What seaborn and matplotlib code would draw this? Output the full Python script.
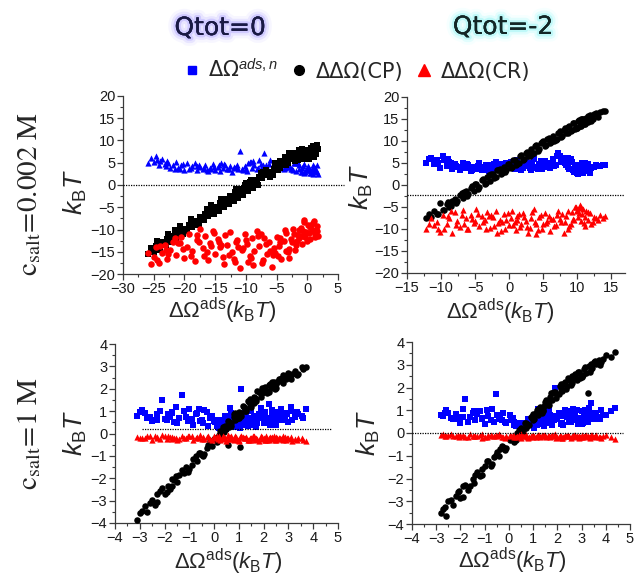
import matplotlib
matplotlib.use("Agg")
import matplotlib.pyplot as plt
import seaborn as sns
from matplotlib.lines import Line2D
from matplotlib.ticker import MultipleLocator, AutoMinorLocator
from matplotlib import patheffects as pe

# ---------------- data ----------------
# Top-left: Qtot=0, c_salt=0.002 M
TL_X = [-25.9, -25.5, -25.0, -24.6, -24.1, -23.7, -23.2, -22.8, -22.3, -21.9,
        -21.4, -21.0, -20.5, -20.1, -19.6, -19.2, -18.8, -18.3, -17.9, -17.5,
        -17.0, -16.6, -16.2, -15.8, -15.4, -15.0, -14.6, -14.2, -13.8, -13.4,
        -13.0, -12.6, -12.2, -11.8, -11.4, -11.0, -10.6, -10.2, -9.8, -9.4,
        -9.0, -8.6, -8.2, -7.8, -7.4, -7.0, -6.6, -6.2, -5.8, -5.4,
        -5.0, -4.6, -4.2, -3.8, -3.4, -3.0, -2.6, -2.2, -1.8, -1.4,
        -1.1, -0.8, -0.5, -0.2, 0.1, 0.4, 0.7, 1.0, 1.3, 1.6,
        1.8, -0.6, -1.6, -2.4, -3.2, -4.4, 0.3, -0.9, 1.1, -7.2,
        -24.4, -23.0, -21.6, -20.3, -19.0, -17.7, -16.4, -15.2, -14.0, -12.8,
        -11.6, -10.4, -9.2, -8.0, -6.8, -5.6, -4.5, -3.5, -2.5, -1.5,
        -0.7, 0.0, 0.6, 1.2, 1.5, -12.0, -10.0, -8.8, -7.6, -6.0,
        -4.8, -3.6, -2.0, -1.3, -0.4, 0.5, 0.9, -13.6, -15.6, -18.0,
        -20.8, -22.6, -24.0, -16.8, -14.4, -11.2, -9.6, -5.2, -2.9, 1.4]
TL_BLUE = [4.9, 6.1, 5.2, 6.6, 4.4, 5.8, 4.8, 5.3, 3.9, 4.6,
           5.1, 3.8, 4.5, 3.4, 4.9, 3.7, 4.2, 5.0, 3.3, 4.0,
           3.6, 4.4, 3.1, 3.9, 4.7, 3.4, 4.1, 3.2, 3.8, 4.5,
           3.5, 4.2, 3.0, 3.9, 4.6, 7.6, 3.6, 4.3, 3.2, 5.1,
           3.8, 4.4, 3.5, 5.6, 4.1, 7.3, 3.7, 4.8, 3.4, 4.3,
           5.0, 3.9, 4.6, 3.5, 5.3, 4.1, 3.6, 4.9, 3.2, 4.4,
           3.0, 3.8, 2.6, 3.4, 4.2, 2.8, 3.6, 2.5, 3.1, 4.5,
           2.4, 4.7, 5.2, 3.3, 4.0, 4.8, 3.9, 2.9, 4.1, 4.6,
           5.7, 4.3, 3.6, 4.8, 3.9, 4.5, 3.3, 4.0, 4.9, 3.7,
           4.1, 3.4, 5.2, 3.9, 4.6, 3.6, 5.5, 4.2, 3.7, 5.0,
           4.2, 3.4, 2.7, 3.9, 2.9, 4.0, 3.5, 5.4, 4.7, 5.6,
           4.4, 3.8, 4.9, 3.6, 2.9, 3.3, 4.4, 4.8, 3.7, 4.2,
           3.6, 4.9, 5.4, 3.8, 4.4, 3.7, 4.9, 3.7, 4.5, 3.4]
TL_BLACK = [-15.5, -14.2, -15.0, -13.6, -14.3, -12.9, -13.5, -12.1, -12.8, -11.4,
            -11.9, -10.6, -11.2, -9.8, -10.3, -8.9, -9.5, -8.0, -8.6, -7.3,
            -7.9, -6.6, -7.0, -5.8, -6.2, -4.9, -5.4, -4.1, -4.5, -3.2,
            -3.7, -2.5, -2.9, -1.6, -2.0, -0.8, -1.3, -0.1, -0.6, 0.6,
            0.1, 1.2, 0.8, 1.9, 1.5, 2.5, 2.2, 3.0, 2.8, 3.6,
            3.5, 4.2, 4.6, 5.4, 5.9, 6.6, 6.2, 7.1, 6.5, 7.3,
            6.8, 7.6, 6.4, 7.2, 7.9, 6.6, 7.5, 8.2, 7.4, 8.6,
            8.1, 5.9, 6.0, 5.8, 5.0, 3.9, 5.8, 8.0, 6.3, 2.9,
            -12.5, -13.5, -10.0, -11.0, -7.6, -8.7, -5.3, -6.5, -3.1, -4.3,
            -0.9, -2.2, 1.1, -0.1, 3.3, 2.3, 5.4, 4.5, 7.0, 5.7,
            7.9, 6.2, 8.4, 6.9, 9.0, -3.6, 0.4, -0.7, 2.6, 1.9,
            3.3, 6.4, 5.3, 7.8, 6.0, 6.6, 8.7, -5.0, -4.5, -9.1,
            -9.2, -11.0, -14.6, -7.9, -5.8, -2.9, -1.4, 4.9, 7.1, 7.0]
TL_RED = [-15.3, -17.8, -16.1, -14.0, -17.5, -15.2, -13.4, -16.6, -14.5, -12.8,
          -15.8, -13.1, -11.6, -16.4, -13.9, -10.9, -14.8, -17.0, -12.3, -9.9,
          -14.2, -11.5, -16.8, -13.0, -10.4, -15.5, -12.1, -14.0, -16.2, -11.3,
          -13.5, -10.6, -15.1, -17.3, -12.4, -18.6, -14.6, -11.0, -13.2, -16.0,
          -12.0, -14.9, -10.3, -13.6, -17.6, -11.8, -15.4, -12.9, -18.4, -14.2,
          -11.6, -13.8, -16.6, -12.5, -10.8, -14.4, -12.2, -11.1, -13.5, -10.2,
          -9.6, -11.4, -8.3, -10.6, -9.1, -12.2, -10.0, -8.6, -11.7, -9.2,
          -11.5, -7.8, -12.6, -9.8, -15.0, -12.8, -10.8, -13.2, -8.1, -16.9,
          -16.9, -14.7, -12.0, -14.3, -16.0, -12.7, -15.1, -10.8, -13.4, -15.7,
          -12.8, -14.1, -16.5, -11.5, -13.2, -15.8, -11.9, -14.8, -12.9, -11.3,
          -10.3, -12.5, -9.0, -10.9, -10.4, -16.6, -12.3, -17.9, -11.0, -14.9,
          -15.9, -10.1, -14.7, -12.0, -11.6, -9.5, -10.3, -17.8, -13.6, -11.3,
          -13.0, -15.6, -13.6, -15.9, -12.7, -14.0, -17.2, -15.2, -16.5, -10.1]

# Top-right: Qtot=-2, c_salt=0.002 M
TR_X = [-12.2, -11.5, -11.0, -10.6, -10.1, -9.7, -9.2, -8.8, -8.4, -8.0,
        -7.6, -7.2, -6.8, -6.4, -6.0, -5.6, -5.2, -4.8, -4.4, -4.0,
        -3.6, -3.2, -2.8, -2.4, -2.0, -1.6, -1.2, -0.8, -0.4, 0.0,
        0.4, 0.8, 1.2, 1.6, 2.0, 2.4, 2.8, 3.2, 3.6, 4.0,
        4.4, 4.8, 5.2, 5.6, 6.0, 6.4, 6.8, 7.2, 7.6, 8.0,
        8.4, 8.8, 9.2, 9.5, 9.8, 10.1, 10.4, 10.7, 11.0, 11.3,
        11.6, 11.9, 12.3, 12.8, 13.4, 14.1, 10.0, 9.0, 10.5, 11.2,
        -9.5, -6.6, -3.0, 1.0, 5.0, 7.0, 3.0, -1.0, 8.6, 6.2,
        -11.8, -10.4, -9.0, -7.8, -7.0, -6.2, -5.4, -4.6, -3.8, -3.4,
        -2.6, -2.2, -1.4, -0.6, -0.2, 0.2, 0.6, 1.4, 1.8, 2.2,
        2.6, 3.4, 3.8, 4.2, 4.6, 5.4, 5.8, 6.6, 7.4, 7.8,
        8.2, 8.6, 9.4, 9.7, 10.2, 10.6, 10.9, 11.1, 11.5, 12.0,
        12.5, 13.0, 13.7, -8.6, -5.0, -1.8, 1.2, 4.0, 9.9, 10.3]
TR_BLUE = [5.1, 6.1, 4.7, 5.6, 3.9, 6.6, 4.4, 5.3, 3.6, 4.8,
           4.1, 3.5, 5.0, 3.9, 4.5, 3.2, 4.2, 3.6, 4.9, 3.4,
           4.0, 3.3, 4.6, 3.7, 5.2, 3.9, 4.4, 3.4, 5.1, 4.2,
           4.9, 3.6, 5.6, 4.2, 3.8, 5.3, 4.5, 3.4, 5.9, 4.1,
           4.8, 3.7, 5.4, 4.4, 3.9, 5.8, 4.6, 7.2, 5.2, 6.1,
           4.5, 3.6, 5.3, 2.9, 4.2, 2.5, 3.8, 4.9, 3.1, 4.4,
           3.5, 2.8, 4.1, 4.6, 4.3, 4.6, 3.3, 5.9, 2.7, 5.1,
           5.6, 4.6, 3.1, 5.0, 4.2, 6.6, 3.9, 4.7, 6.2, 5.0,
           5.8, 4.9, 5.9, 4.4, 3.8, 4.7, 3.5, 4.3, 3.6, 4.6,
           3.9, 4.8, 3.5, 4.5, 3.8, 5.3, 4.0, 4.6, 3.5, 5.0,
           4.3, 5.1, 4.0, 3.6, 5.5, 4.0, 5.1, 4.3, 6.6, 5.6,
           5.0, 4.0, 3.4, 4.6, 3.0, 4.2, 2.7, 3.9, 4.7, 3.8,
           4.0, 4.3, 4.5, 4.9, 4.0, 3.7, 4.3, 3.8, 2.8, 4.6]
TR_BLACK = [-7.6, -7.3, -6.0, -6.5, -4.2, -5.6, -4.3, -4.9, -3.6, -3.1,
            -3.7, -2.2, -2.9, -1.4, -2.1, -0.6, -1.3, 0.3, -0.5, 1.1,
            0.3, 1.9, 1.0, 2.6, 1.8, 3.4, 2.6, 4.1, 3.3, 4.8,
            4.1, 5.7, 4.9, 6.5, 5.6, 7.3, 6.5, 8.1, 7.2, 8.9,
            8.1, 9.7, 8.9, 10.5, 9.6, 11.2, 10.3, 11.9, 11.0, 12.6,
            11.8, 13.3, 12.5, 14.0, 12.9, 14.5, 13.4, 15.0, 13.9, 15.3,
            14.4, 15.8, 15.0, 16.4, 16.6, 16.8, 12.9, 12.2, 15.1, 14.0,
            -5.7, -1.6, 2.2, 4.6, 10.0, 10.4, 6.7, 2.7, 13.1, 9.8,
            -6.6, -6.7, -3.8, -4.0, -1.8, -2.4, -0.2, -0.8, 1.4, 0.4,
            2.5, 1.5, 3.7, 3.0, 4.8, 3.8, 5.6, 5.0, 6.8, 5.8,
            7.6, 7.0, 8.8, 7.8, 9.6, 9.0, 10.7, 10.0, 12.2, 11.1,
            12.9, 11.8, 14.0, 12.8, 14.6, 13.5, 15.1, 13.9, 15.6, 14.5,
            16.2, 15.4, 16.9, -4.8, 0.2, 3.3, 4.8, 9.0, 13.0, 14.7]
TR_RED = [-10.0, -7.4, -9.2, -8.3, -10.6, -6.8, -8.9, -7.6, -10.9, -6.2,
          -8.1, -9.6, -5.6, -7.5, -10.1, -6.9, -8.6, -5.4, -9.3, -7.1,
          -8.0, -6.1, -9.8, -7.3, -5.8, -8.7, -10.4, -6.6, -7.9, -9.1,
          -5.9, -8.4, -7.0, -9.5, -6.3, -8.1, -10.8, -7.4, -5.5, -8.8,
          -7.2, -9.9, -6.4, -8.2, -10.5, -7.7, -9.0, -6.0, -8.5, -11.0,
          -7.0, -9.3, -6.2, -8.0, -5.1, -7.3, -4.6, -6.5, -8.6, -5.8,
          -7.9, -6.4, -8.3, -7.5, -6.9, -7.0, -5.6, -8.8, -4.9, -9.4,
          -9.9, -8.8, -7.0, -10.2, -8.9, -6.8, -9.7, -8.3, -10.1, -7.8,
          -8.8, -9.9, -7.1, -9.0, -6.8, -9.9, -7.7, -6.5, -8.5, -10.0,
          -6.9, -9.4, -8.0, -10.0, -6.3, -7.6, -9.1, -6.7, -8.9, -7.2,
          -9.6, -6.2, -8.4, -10.3, -6.9, -8.6, -7.1, -9.3, -7.7, -6.6,
          -8.4, -6.0, -7.7, -4.9, -6.4, -8.2, -5.5, -7.2, -6.1, -8.8,
          -7.3, -8.0, -7.5, -5.9, -8.2, -10.8, -7.9, -11.2, -6.0, -5.3]

# Bottom-left: Qtot=0, c_salt=1 M
BL_X = [-3.1, -2.9, -2.7, -2.5, -2.3, -2.1, -1.9, -1.7, -1.5, -1.3,
        -1.15, -1.0, -0.85, -0.7, -0.55, -0.4, -0.25, -0.1, 0.05, 0.2,
        0.3, 0.4, 0.5, 0.6, 0.7, 0.8, 0.9, 1.0, 1.1, 1.2,
        1.3, 1.4, 1.5, 1.6, 1.7, 1.8, 1.9, 2.0, 2.1, 2.2,
        2.3, 2.4, 2.5, 2.6, 2.7, 2.8, 2.9, 3.0, 3.1, 3.25,
        3.4, 3.6, 3.7, -2.0, -1.2, -0.5, 0.55, 1.05, 1.65, 2.35,
        -2.6, -1.6, -0.3, 0.15, 0.85, 1.45, 2.05, 2.75, -0.9, 1.25,
        0.45, 0.95, 1.55, 1.95, 2.55, -1.85, -1.4, 0.65, 3.15, 0.35,
        -2.8, -2.4, -2.2, -1.8, -1.55, -1.05, -0.75, -0.45, -0.15, 0.1,
        0.25, 0.4, 0.55, 0.7, 0.85, 1.0, 1.15, 1.3, 1.45, 1.6,
        1.75, 1.9, 2.05, 2.2, 2.35, 2.5, 2.65, 2.8, 2.95, 3.1,
        0.35, 0.6, 0.8, 1.1, 1.35, 1.7, 1.95, 2.25, 2.45, 2.6,
        2.85, 3.35, 3.55, -3.0, -2.3, -1.7, -0.6, 0.0, 1.5, 2.15]
BL_BLUE = [0.8, 1.05, 0.7, 0.55, 0.85, 1.5, 0.6, 0.95, 0.45, 1.7,
           0.75, 1.1, 0.4, 0.9, 0.55, 1.05, 0.35, 0.8, 0.5, 0.25,
           0.3, 0.6, 0.2, 0.45, 0.9, 0.35, 0.7, 0.5, 2.0, 0.4,
           0.8, 0.5, 1.0, 0.6, 0.3, 0.85, 1.15, 0.45, 0.7, 1.3,
           0.55, 0.95, 0.4, 0.8, 1.1, 0.6, 0.9, 0.5, 1.2, 0.75,
           0.85, 0.7, 1.1, 0.65, 1.0, 0.6, 0.55, 0.25, 0.65, 1.05,
           0.75, 0.5, 0.95, 0.6, 0.3, 0.7, 0.55, 0.85, 0.65, 1.05,
           0.8, 0.6, 0.4, 0.95, 0.65, 0.85, 0.7, 1.15, 0.6, 0.45,
           0.9, 0.6, 1.0, 0.75, 1.2, 0.55, 0.85, 0.45, 0.7, 0.35,
           0.45, 0.3, 0.75, 0.55, 0.4, 0.85, 0.6, 0.95, 0.5, 0.8,
           0.45, 0.7, 0.95, 0.6, 0.8, 0.5, 0.95, 0.65, 0.85, 1.0,
           0.55, 0.8, 0.4, 0.65, 0.35, 0.55, 0.75, 0.4, 0.9, 0.6,
           0.75, 0.95, 0.8, 0.95, 0.6, 0.9, 1.1, 0.55, 1.1, 0.65]
BL_BLACK = [-3.85, -3.45, -3.5, -2.95, -3.05, -2.45, -2.6, -2.05, -2.15, -1.65,
            -1.5, -1.6, -1.15, -1.25, -0.85, -0.9, -0.5, -0.55, -0.2, -0.05,
            0.05, 0.3, 0.22, 0.5, 0.45, 0.75, 0.65, 0.95, 0.9, 1.2,
            1.1, 1.4, 1.3, 1.65, 1.55, 1.85, 1.75, 2.05, 1.9, 2.15,
            2.05, 2.3, 2.2, 2.45, 2.35, 2.6, 2.45, 2.7, 2.6, 2.8,
            2.65, 2.9, 2.98, -2.7, -1.75, -0.95, -0.5, -0.6, 1.6, 2.2,
            -3.1, -2.1, -0.65, -0.15, 0.6, 1.25, 1.95, 2.5, -1.4, 1.0,
            0.35, 0.7, 1.5, 1.8, 2.3, -2.35, -1.85, 0.4, 2.65, 0.15,
            -3.25, -3.2, -2.55, -2.5, -1.9, -1.7, -1.0, -1.0, -0.35, -0.4,
            0.1, 0.05, 0.55, 0.35, 0.9, 0.7, 1.25, 1.0, 1.55, 1.35,
            1.9, 1.65, 2.1, 1.85, 2.3, 2.05, 2.45, 2.25, 2.6, 2.45,
            0.3, 0.3, 0.85, 0.8, 1.45, 1.45, 2.05, 2.2, 2.0, 2.4,
            2.55, 2.6, 2.95, -3.55, -2.7, -2.35, -0.85, -0.25, 1.2, 1.8]
BL_RED = [-0.15, -0.22, -0.1, -0.28, -0.18, -0.08, -0.25, -0.14, -0.3, -0.12,
          -0.2, -0.1, -0.27, -0.16, -0.06, -0.23, -0.13, -0.3, -0.18, -0.09,
          -0.24, -0.14, -0.32, -0.2, -0.1, -0.27, -0.17, -0.35, -0.12, -0.22,
          -0.15, -0.28, -0.19, -0.1, -0.25, -0.33, -0.16, -0.22, -0.12, -0.29,
          -0.2, -0.13, -0.3, -0.18, -0.24, -0.11, -0.27, -0.2, -0.16, -0.25,
          -0.22, -0.3, -0.34, -0.12, -0.19, -0.26, -0.08, -0.14, -0.3, -0.17,
          -0.09, -0.21, -0.15, -0.24, -0.13, -0.2, -0.28, -0.23, -0.11, -0.18,
          -0.19, -0.27, -0.11, -0.16, -0.22, -0.1, -0.26, -0.17, -0.32, -0.13,
          -0.18, -0.12, -0.25, -0.15, -0.2, -0.09, -0.22, -0.16, -0.26, -0.11,
          -0.28, -0.2, -0.12, -0.25, -0.18, -0.3, -0.14, -0.21, -0.27, -0.17,
          -0.23, -0.13, -0.29, -0.19, -0.26, -0.15, -0.22, -0.31, -0.18, -0.24,
          -0.16, -0.26, -0.21, -0.13, -0.27, -0.19, -0.24, -0.14, -0.28, -0.2,
          -0.17, -0.27, -0.21, -0.2, -0.14, -0.23, -0.18, -0.12, -0.22, -0.29]

# Bottom-right: Qtot=-2, c_salt=1 M
BR_X = [-2.8, -2.6, -2.4, -2.2, -2.0, -1.8, -1.6, -1.4, -1.2, -1.0,
        -0.85, -0.7, -0.55, -0.4, -0.25, -0.1, 0.05, 0.2, 0.35, 0.5,
        0.6, 0.7, 0.8, 0.9, 1.0, 1.1, 1.2, 1.3, 1.4, 1.5,
        1.6, 1.7, 1.8, 1.9, 2.0, 2.1, 2.2, 2.3, 2.4, 2.5,
        2.6, 2.7, 2.8, 2.9, 3.0, 3.1, 3.2, 3.3, 3.4, 3.5,
        3.6, 3.7, 3.8, 3.9, 4.4, -2.1, -1.5, -0.6, 0.75, 1.25,
        1.75, 2.25, 2.75, 3.25, -2.7, -0.3, 0.45, 1.05, 1.95, 2.65,
        3.05, 3.45, 0.95, 1.45, 2.15, -1.9, -1.1, 0.15, 1.65, 2.85,
        -2.5, -2.3, -1.9, -1.7, -1.3, -1.1, -0.9, -0.75, -0.5, -0.15,
        0.1, 0.3, 0.4, 0.55, 0.65, 0.85, 1.15, 1.35, 1.55, 1.65,
        1.85, 2.05, 2.15, 2.35, 2.45, 2.55, 2.75, 2.95, 3.15, 3.35,
        3.55, 3.75, 4.0, 4.2, 0.2, 0.7, 1.0, 1.4, 1.8, 2.2,
        2.6, 3.0, 3.4, -2.65, -2.05, -1.45, -0.35, 0.5, 1.2, 2.9]
BR_BLUE = [0.8, 1.0, 0.65, 0.85, 0.45, 1.5, 0.7, 0.55, 0.95, 0.4,
           0.75, 1.05, 1.7, 0.6, 0.9, 0.45, 0.8, 0.35, 0.3, 0.2,
           0.45, 0.25, 0.6, 0.35, 0.5, 0.75, 1.05, 0.4, 0.65, 0.9,
           0.5, 0.8, 0.35, 2.0, 0.6, 0.9, 0.45, 1.0, 0.7, 0.5,
           0.85, 0.55, 1.0, 0.65, 0.4, 0.9, 0.7, 1.1, 1.3, 0.6,
           0.85, 0.7, 1.0, 0.8, 1.1, 0.6, 0.9, 0.5, 0.3, 0.55,
           0.65, 0.35, 0.7, 0.5, 0.75, 0.55, 0.45, 0.2, 0.75, 1.05,
           0.45, 0.75, 0.55, 0.3, 0.85, 0.7, 0.6, 0.65, 1.0, 0.4,
           0.9, 0.6, 1.05, 0.5, 0.85, 0.65, 1.0, 0.55, 0.8, 0.5,
           0.55, 0.3, 0.45, 0.25, 0.4, 0.6, 0.35, 0.85, 0.45, 0.7,
           0.55, 0.9, 0.4, 0.75, 0.95, 0.5, 0.85, 0.6, 1.0, 0.75,
           0.9, 0.6, 0.8, 0.95, 0.5, 0.4, 0.7, 0.95, 0.55, 0.75,
           0.6, 0.95, 0.85, 0.9, 0.7, 0.95, 0.75, 0.35, 0.8, 0.6]
BR_BLACK = [-3.5, -3.65, -2.95, -2.75, -2.85, -2.3, -2.35, -1.85, -1.9, -1.45,
            -1.25, -1.35, -0.95, -1.0, -0.6, -0.65, -0.3, -0.35, 0.0, 0.2,
            0.1, 0.45, 0.35, 0.7, 0.55, 0.9, 0.8, 1.15, 1.0, 1.35,
            1.25, 1.6, 1.45, 1.8, 1.7, 2.05, 1.9, 2.25, 2.05, 2.35,
            2.2, 2.5, 2.35, 2.65, 2.5, 2.8, 2.65, 2.95, 2.8, 3.1,
            3.05, 3.2, 3.1, 3.25, 3.55, -2.6, -2.0, -1.05, 0.4, 0.95,
            1.75, 2.15, 2.45, 1.75, -3.35, -0.55, 0.05, 0.6, 1.55, 2.4,
            2.55, 2.85, 0.65, 1.2, 1.95, -2.8, -1.6, -0.25, 1.4, 2.7,
            -3.0, -3.15, -2.35, -2.5, -1.7, -1.85, -1.25, -1.45, -0.85, -0.75,
            -0.2, -0.3, 0.15, 0.0, 0.45, 0.35, 1.0, 0.9, 1.45, 1.25,
            1.8, 1.7, 2.15, 1.95, 2.4, 2.1, 2.6, 2.4, 2.9, 2.7,
            3.15, 3.0, 3.45, 3.35, -0.4, 0.2, 0.85, 0.95, 1.75, 1.85,
            2.5, 2.45, 3.05, -3.25, -2.55, -2.2, -0.7, -0.05, 1.05, 2.7]
BR_RED = [-0.08, -0.12, -0.05, -0.15, -0.09, -0.18, -0.06, -0.13, -0.1, -0.16,
          -0.07, -0.14, -0.1, -0.05, -0.17, -0.11, -0.08, -0.19, -0.12, -0.06,
          -0.15, -0.09, -0.2, -0.12, -0.07, -0.16, -0.1, -0.18, -0.13, -0.08,
          -0.14, -0.19, -0.1, -0.06, -0.16, -0.12, -0.21, -0.09, -0.15, -0.11,
          -0.18, -0.08, -0.13, -0.2, -0.1, -0.15, -0.07, -0.17, -0.12, -0.19,
          -0.1, -0.16, -0.21, -0.13, -0.25, -0.07, -0.14, -0.11, -0.18, -0.09,
          -0.12, -0.17, -0.08, -0.14, -0.06, -0.19, -0.1, -0.15, -0.2, -0.11,
          -0.16, -0.09, -0.13, -0.07, -0.18, -0.12, -0.2, -0.08, -0.14, -0.17,
          -0.1, -0.15, -0.07, -0.18, -0.12, -0.06, -0.16, -0.09, -0.14, -0.2,
          -0.11, -0.17, -0.08, -0.15, -0.1, -0.19, -0.13, -0.07, -0.16, -0.12,
          -0.09, -0.18, -0.12, -0.15, -0.08, -0.2, -0.11, -0.16, -0.13, -0.22,
          -0.14, -0.19, -0.1, -0.17, -0.13, -0.08, -0.18, -0.11, -0.15, -0.2,
          -0.12, -0.16, -0.09, -0.11, -0.17, -0.13, -0.07, -0.21, -0.1, -0.14]

# reference (dotted) levels
REF_TL, REF_TR, REF_BL, REF_BR = 0.0, -2.2, 0.22, 0.0

COL_TITLES = ["Qtot=0", "Qtot=-2"]
ROW_TITLES = [r"$\mathrm{c}_{\mathrm{salt}}\!=\!\mathrm{0.002\ M}$",
              r"$\mathrm{c}_{\mathrm{salt}}\!=\!\mathrm{1\ M}$"]
LEGEND_LABELS = ["ΔΩ$^{ads,n}$", "ΔΔΩ(CP)", "ΔΔΩ(CR)"]

# ---------------- style ----------------
sns.set_theme(style="ticks")
plt.rcParams["font.family"] = ["Liberation Sans", "DejaVu Sans"]
plt.rcParams["mathtext.fontset"] = "custom"
plt.rcParams["mathtext.rm"] = "Liberation Sans"
plt.rcParams["mathtext.it"] = "Liberation Sans:italic"
plt.rcParams["mathtext.bf"] = "Liberation Sans:bold"
plt.rcParams["axes.edgecolor"] = "#3a3a3a"
plt.rcParams["xtick.color"] = "#3a3a3a"
plt.rcParams["ytick.color"] = "#3a3a3a"
plt.rcParams["xtick.labelcolor"] = "#1a1a1a"
plt.rcParams["ytick.labelcolor"] = "#1a1a1a"

W, H = 636, 579
fig = plt.figure(figsize=(W / 100, H / 100), dpi=100)

def rect(l, t, r, b):
    return [l / W, 1 - b / H, (r - l) / W, (b - t) / H]

ax_tl = fig.add_axes(rect(123, 96, 338, 274))
ax_tr = fig.add_axes(rect(407, 97, 625, 273))
ax_bl = fig.add_axes(rect(115, 344, 338, 523))
ax_br = fig.add_axes(rect(412, 342, 630, 524))

def draw(ax, x, yb, yk, yr, mb, mk, mr, sb, sk, sr):
    sns.scatterplot(x=x, y=yb, ax=ax, marker=mb, color="blue", s=sb, linewidth=0, legend=False, zorder=2)
    sns.scatterplot(x=x, y=yk, ax=ax, marker=mk, color="black", s=sk, linewidth=0, legend=False, zorder=3)
    sns.scatterplot(x=x, y=yr, ax=ax, marker=mr, color="red", s=sr, linewidth=0, legend=False, zorder=4)

draw(ax_tl, TL_X, TL_BLUE, TL_BLACK, TL_RED, "^", "s", "o", 20, 22, 22)
draw(ax_tr, TR_X, TR_BLUE, TR_BLACK, TR_RED, "s", "o", "^", 18, 22, 20)
draw(ax_bl, BL_X, BL_BLUE, BL_BLACK, BL_RED, "s", "o", "^", 18, 22, 20)
draw(ax_br, BR_X, BR_BLUE, BR_BLACK, BR_RED, "s", "o", "^", 18, 22, 20)

dots = (0, (1, 1))
ax_tl.hlines(REF_TL, -30, 6.0, colors="black", linestyles=dots, linewidth=0.9, clip_on=False, zorder=5)
ax_tr.hlines(REF_TR, -15, 16.8, colors="black", linestyles=dots, linewidth=0.9, clip_on=False, zorder=5)
ax_bl.hlines(REF_BL, -2.9, 4.75, colors="black", linestyles=dots, linewidth=0.9, clip_on=False, zorder=5)
ax_br.hlines(REF_BR, -4, 4.7, colors="black", linestyles=dots, linewidth=0.9, clip_on=False, zorder=5)

ax_tl.set_xlim(-30, 5); ax_tl.set_ylim(-20, 20)
ax_tr.set_xlim(-15, 17); ax_tr.set_ylim(-20, 20)
ax_bl.set_xlim(-4, 5); ax_bl.set_ylim(-4, 4)
ax_br.set_xlim(-4, 5); ax_br.set_ylim(-4, 4)

for ax, step in [(ax_tl, 5), (ax_tr, 5), (ax_bl, 1), (ax_br, 1)]:
    ax.xaxis.set_major_locator(MultipleLocator(step))
    ax.yaxis.set_major_locator(MultipleLocator(step))
    ax.xaxis.set_minor_locator(AutoMinorLocator(2))
    ax.yaxis.set_minor_locator(AutoMinorLocator(2))
    ax.tick_params(which="major", direction="out", length=4, width=0.9, labelsize=10.5, pad=1.5)
    ax.tick_params(which="minor", direction="out", length=2.2, width=0.8)
    for sp in ["top", "right"]:
        ax.spines[sp].set_visible(False)
    for sp in ["left", "bottom"]:
        ax.spines[sp].set_linewidth(0.9)
    ax.set_facecolor("white")
    ax.set_xlabel(r"$\Delta\Omega^{\mathrm{ads}}(k_{\mathrm{B}}T)$", fontsize=16, va="center", ha="center")
    ax.set_ylabel(r"$k_{\mathrm{B}}T$", fontsize=19, va="center", ha="center")

ax_tl.xaxis.set_label_coords(0.46, -0.21)
ax_tr.xaxis.set_label_coords(0.43, -0.22)
ax_bl.xaxis.set_label_coords(0.51, -0.22)
ax_br.xaxis.set_label_coords(0.46, -0.2)
ax_tl.yaxis.set_label_coords((75 - 123) / 215, 0.46)
ax_tr.yaxis.set_label_coords((361 - 407) / 218, 0.49)
ax_bl.yaxis.set_label_coords((75 - 115) / 223, 0.5)
ax_br.yaxis.set_label_coords((368 - 412) / 218, 0.5)

# column titles with soft glow
glow0 = [pe.withStroke(linewidth=11, foreground="#c4bcff", alpha=0.12),
         pe.withStroke(linewidth=7, foreground="#ada2ff", alpha=0.2),
         pe.withStroke(linewidth=3.5, foreground="#9a8eff", alpha=0.3), pe.Normal()]
glow2 = [pe.withStroke(linewidth=11, foreground="#b8ffff", alpha=0.12),
         pe.withStroke(linewidth=7, foreground="#98f8f8", alpha=0.22),
         pe.withStroke(linewidth=3.5, foreground="#7af0f0", alpha=0.32), pe.Normal()]
fig.text(220 / W, 1 - 28 / H, COL_TITLES[0], ha="center", va="center", fontsize=18,
         family="DejaVu Sans", color="#1a1a44", path_effects=glow0)
fig.text(503 / W, 1 - 27 / H, COL_TITLES[1], ha="center", va="center", fontsize=18,
         family="DejaVu Sans", color="#142626", path_effects=glow2)

# row titles
fig.text(29 / W, 1 - 194 / H, ROW_TITLES[0], rotation=90, ha="center", va="center",
         fontsize=21, math_fontfamily="stix")
fig.text(29 / W, 1 - 433 / H, ROW_TITLES[1], rotation=90, ha="center", va="center",
         fontsize=21, math_fontfamily="stix")

# legend
handles = [Line2D([], [], ls="none", marker="s", color="blue", markersize=6),
           Line2D([], [], ls="none", marker="o", color="black", markersize=7),
           Line2D([], [], ls="none", marker="^", color="red", markersize=8)]
fig.legend(handles, LEGEND_LABELS, loc="center", bbox_to_anchor=(358 / W, 1 - 70 / H), ncol=3,
           frameon=False, prop={"family": "DejaVu Sans", "size": 15}, handlelength=0.6,
           handletextpad=0.5, columnspacing=0.7, borderaxespad=0, borderpad=0)

fig.savefig("out.png", dpi=100, facecolor="white")
